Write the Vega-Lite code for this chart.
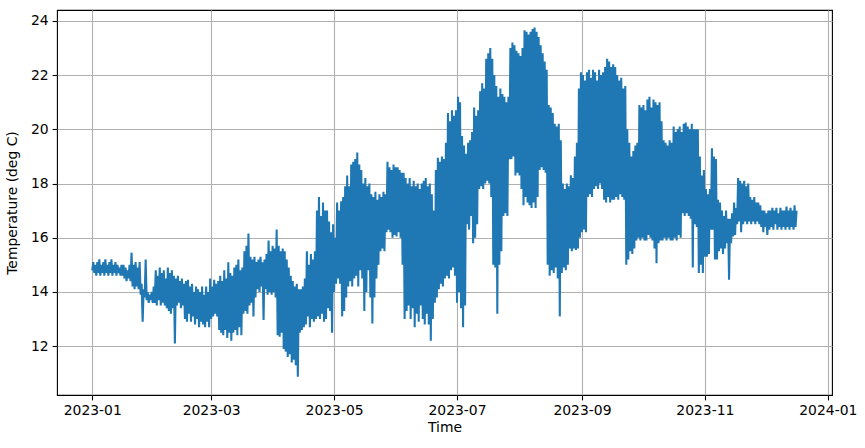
{
"$schema":"https://vega.github.io/schema/vega-lite/v6.json",
"autosize":"none",
"width":775,"height":385,
"padding":{"left":57,"top":10,"right":33,"bottom":53},
"background":"white",
"config":{
"view":{"stroke":"black","strokeWidth":1.1},
"axis":{"labelFont":"DejaVu Sans","labelFontSize":13.9,"labelColor":"black","titleFont":"DejaVu Sans","titleFontSize":13.9,"titleFontWeight":"normal","titleColor":"black","gridColor":"#b0b0b0","gridWidth":1.1,"gridOpacity":1,"tickColor":"black","tickWidth":1.1,"tickSize":4.9,"labelPadding":4,"domain":false}
},
"data":{"format":{"parse":{"t":"date:'%Y-%m-%d %H'"}},"values":[
{"t":"2023-01-01 00","v":14.8},{"t":"2023-01-01 12","v":15.1},
{"t":"2023-01-02 00","v":14.7},{"t":"2023-01-02 12","v":15.0},
{"t":"2023-01-03 00","v":14.6},{"t":"2023-01-03 12","v":15.1},
{"t":"2023-01-04 00","v":14.7},{"t":"2023-01-04 12","v":15.2},
{"t":"2023-01-05 00","v":14.6},{"t":"2023-01-05 12","v":15.0},
{"t":"2023-01-06 00","v":14.7},{"t":"2023-01-06 12","v":15.1},
{"t":"2023-01-07 00","v":14.6},{"t":"2023-01-07 12","v":15.2},
{"t":"2023-01-08 00","v":14.7},{"t":"2023-01-08 12","v":15.0},
{"t":"2023-01-09 00","v":14.6},{"t":"2023-01-09 12","v":15.1},
{"t":"2023-01-10 00","v":14.7},{"t":"2023-01-10 12","v":15.2},
{"t":"2023-01-11 00","v":14.6},{"t":"2023-01-11 12","v":15.0},
{"t":"2023-01-12 00","v":14.7},{"t":"2023-01-12 12","v":15.1},
{"t":"2023-01-13 00","v":14.6},{"t":"2023-01-13 12","v":15.0},
{"t":"2023-01-14 00","v":14.7},{"t":"2023-01-14 12","v":14.9},
{"t":"2023-01-15 00","v":14.6},{"t":"2023-01-15 12","v":15.0},
{"t":"2023-01-16 00","v":14.6},{"t":"2023-01-16 12","v":15.0},
{"t":"2023-01-17 00","v":14.5},{"t":"2023-01-17 12","v":14.9},
{"t":"2023-01-18 00","v":14.4},{"t":"2023-01-18 12","v":14.8},
{"t":"2023-01-19 00","v":14.5},{"t":"2023-01-19 12","v":15.0},
{"t":"2023-01-20 00","v":14.4},{"t":"2023-01-20 12","v":15.45},
{"t":"2023-01-21 00","v":14.2},{"t":"2023-01-21 12","v":15.0},
{"t":"2023-01-22 00","v":14.1},{"t":"2023-01-22 12","v":15.1},
{"t":"2023-01-23 00","v":14.2},{"t":"2023-01-23 12","v":14.9},
{"t":"2023-01-24 00","v":14.1},{"t":"2023-01-24 12","v":15.1},
{"t":"2023-01-25 00","v":13.9},{"t":"2023-01-25 12","v":14.3},
{"t":"2023-01-26 00","v":12.9},{"t":"2023-01-26 12","v":14.1},
{"t":"2023-01-27 00","v":13.8},{"t":"2023-01-27 12","v":15.2},
{"t":"2023-01-28 00","v":13.7},{"t":"2023-01-28 12","v":14.0},
{"t":"2023-01-29 00","v":13.6},{"t":"2023-01-29 12","v":13.9},
{"t":"2023-01-30 00","v":13.7},{"t":"2023-01-30 12","v":14.0},
{"t":"2023-01-31 00","v":13.6},{"t":"2023-01-31 12","v":14.2},
{"t":"2023-02-01 00","v":13.6},{"t":"2023-02-01 12","v":14.8},
{"t":"2023-02-02 00","v":13.5},{"t":"2023-02-02 12","v":14.6},
{"t":"2023-02-03 00","v":13.7},{"t":"2023-02-03 12","v":14.9},
{"t":"2023-02-04 00","v":13.5},{"t":"2023-02-04 12","v":14.7},
{"t":"2023-02-05 00","v":13.6},{"t":"2023-02-05 12","v":14.8},
{"t":"2023-02-06 00","v":13.5},{"t":"2023-02-06 12","v":14.5},
{"t":"2023-02-07 00","v":13.4},{"t":"2023-02-07 12","v":14.9},
{"t":"2023-02-08 00","v":13.3},{"t":"2023-02-08 12","v":14.7},
{"t":"2023-02-09 00","v":13.2},{"t":"2023-02-09 12","v":14.8},
{"t":"2023-02-10 00","v":13.4},{"t":"2023-02-10 12","v":14.6},
{"t":"2023-02-11 00","v":12.1},{"t":"2023-02-11 12","v":14.5},
{"t":"2023-02-12 00","v":13.5},{"t":"2023-02-12 12","v":14.6},
{"t":"2023-02-13 00","v":13.6},{"t":"2023-02-13 12","v":14.4},
{"t":"2023-02-14 00","v":13.4},{"t":"2023-02-14 12","v":14.5},
{"t":"2023-02-15 00","v":13.5},{"t":"2023-02-15 12","v":14.3},
{"t":"2023-02-16 00","v":13.0},{"t":"2023-02-16 12","v":14.4},
{"t":"2023-02-17 00","v":12.9},{"t":"2023-02-17 12","v":14.45},
{"t":"2023-02-18 00","v":13.2},{"t":"2023-02-18 12","v":14.2},
{"t":"2023-02-19 00","v":12.9},{"t":"2023-02-19 12","v":14.3},
{"t":"2023-02-20 00","v":13.1},{"t":"2023-02-20 12","v":14.0},
{"t":"2023-02-21 00","v":12.8},{"t":"2023-02-21 12","v":14.2},
{"t":"2023-02-22 00","v":13.0},{"t":"2023-02-22 12","v":14.1},
{"t":"2023-02-23 00","v":12.7},{"t":"2023-02-23 12","v":14.0},
{"t":"2023-02-24 00","v":12.9},{"t":"2023-02-24 12","v":14.2},
{"t":"2023-02-25 00","v":12.8},{"t":"2023-02-25 12","v":13.9},
{"t":"2023-02-26 00","v":12.7},{"t":"2023-02-26 12","v":14.2},
{"t":"2023-02-27 00","v":12.9},{"t":"2023-02-27 12","v":14.0},
{"t":"2023-02-28 00","v":12.7},{"t":"2023-02-28 12","v":14.5},
{"t":"2023-03-01 00","v":13.0},{"t":"2023-03-01 12","v":14.2},
{"t":"2023-03-02 00","v":13.1},{"t":"2023-03-02 12","v":14.45},
{"t":"2023-03-03 00","v":13.2},{"t":"2023-03-03 12","v":14.3},
{"t":"2023-03-04 00","v":13.1},{"t":"2023-03-04 12","v":14.4},
{"t":"2023-03-05 00","v":12.6},{"t":"2023-03-05 12","v":14.6},
{"t":"2023-03-06 00","v":12.5},{"t":"2023-03-06 12","v":14.4},
{"t":"2023-03-07 00","v":12.4},{"t":"2023-03-07 12","v":14.8},
{"t":"2023-03-08 00","v":12.6},{"t":"2023-03-08 12","v":14.5},
{"t":"2023-03-09 00","v":12.3},{"t":"2023-03-09 12","v":15.1},
{"t":"2023-03-10 00","v":12.5},{"t":"2023-03-10 12","v":14.7},
{"t":"2023-03-11 00","v":12.2},{"t":"2023-03-11 12","v":14.6},
{"t":"2023-03-12 00","v":12.5},{"t":"2023-03-12 12","v":14.9},
{"t":"2023-03-13 00","v":12.6},{"t":"2023-03-13 12","v":15.0},
{"t":"2023-03-14 00","v":12.4},{"t":"2023-03-14 12","v":15.2},
{"t":"2023-03-15 00","v":12.7},{"t":"2023-03-15 12","v":14.8},
{"t":"2023-03-16 00","v":12.4},{"t":"2023-03-16 12","v":14.9},
{"t":"2023-03-17 00","v":13.2},{"t":"2023-03-17 12","v":15.5},
{"t":"2023-03-18 00","v":13.3},{"t":"2023-03-18 12","v":15.7},
{"t":"2023-03-19 00","v":13.2},{"t":"2023-03-19 12","v":16.16},
{"t":"2023-03-20 00","v":13.5},{"t":"2023-03-20 12","v":15.3},
{"t":"2023-03-21 00","v":13.6},{"t":"2023-03-21 12","v":15.2},
{"t":"2023-03-22 00","v":13.1},{"t":"2023-03-22 12","v":15.3},
{"t":"2023-03-23 00","v":13.8},{"t":"2023-03-23 12","v":15.1},
{"t":"2023-03-24 00","v":14.1},{"t":"2023-03-24 12","v":15.2},
{"t":"2023-03-25 00","v":14.0},{"t":"2023-03-25 12","v":15.3},
{"t":"2023-03-26 00","v":14.2},{"t":"2023-03-26 12","v":15.1},
{"t":"2023-03-27 00","v":12.97},{"t":"2023-03-27 12","v":15.2},
{"t":"2023-03-28 00","v":14.1},{"t":"2023-03-28 12","v":15.4},
{"t":"2023-03-29 00","v":13.9},{"t":"2023-03-29 12","v":15.9},
{"t":"2023-03-30 00","v":14.0},{"t":"2023-03-30 12","v":15.5},
{"t":"2023-03-31 00","v":13.9},{"t":"2023-03-31 12","v":15.7},
{"t":"2023-04-01 00","v":14.0},{"t":"2023-04-01 12","v":15.6},
{"t":"2023-04-02 00","v":13.8},{"t":"2023-04-02 12","v":16.3},
{"t":"2023-04-03 00","v":12.4},{"t":"2023-04-03 12","v":15.7},
{"t":"2023-04-04 00","v":12.35},{"t":"2023-04-04 12","v":15.5},
{"t":"2023-04-05 00","v":12.5},{"t":"2023-04-05 12","v":15.6},
{"t":"2023-04-06 00","v":11.9},{"t":"2023-04-06 12","v":15.5},
{"t":"2023-04-07 00","v":11.8},{"t":"2023-04-07 12","v":15.2},
{"t":"2023-04-08 00","v":11.6},{"t":"2023-04-08 12","v":14.9},
{"t":"2023-04-09 00","v":11.7},{"t":"2023-04-09 12","v":14.6},
{"t":"2023-04-10 00","v":11.4},{"t":"2023-04-10 12","v":14.4},
{"t":"2023-04-11 00","v":11.5},{"t":"2023-04-11 12","v":14.2},
{"t":"2023-04-12 00","v":11.3},{"t":"2023-04-12 12","v":14.3},
{"t":"2023-04-13 00","v":10.87},{"t":"2023-04-13 12","v":14.1},
{"t":"2023-04-14 00","v":12.5},{"t":"2023-04-14 12","v":14.1},
{"t":"2023-04-15 00","v":12.6},{"t":"2023-04-15 12","v":14.2},
{"t":"2023-04-16 00","v":12.7},{"t":"2023-04-16 12","v":14.5},
{"t":"2023-04-17 00","v":12.8},{"t":"2023-04-17 12","v":15.5},
{"t":"2023-04-18 00","v":13.1},{"t":"2023-04-18 12","v":15.0},
{"t":"2023-04-19 00","v":12.7},{"t":"2023-04-19 12","v":15.4},
{"t":"2023-04-20 00","v":13.0},{"t":"2023-04-20 12","v":15.2},
{"t":"2023-04-21 00","v":12.9},{"t":"2023-04-21 12","v":15.5},
{"t":"2023-04-22 00","v":13.0},{"t":"2023-04-22 12","v":17.0},
{"t":"2023-04-23 00","v":13.1},{"t":"2023-04-23 12","v":17.5},
{"t":"2023-04-24 00","v":13.0},{"t":"2023-04-24 12","v":16.8},
{"t":"2023-04-25 00","v":13.2},{"t":"2023-04-25 12","v":17.3},
{"t":"2023-04-26 00","v":12.9},{"t":"2023-04-26 12","v":17.0},
{"t":"2023-04-27 00","v":13.0},{"t":"2023-04-27 12","v":17.0},
{"t":"2023-04-28 00","v":13.4},{"t":"2023-04-28 12","v":16.6},
{"t":"2023-04-29 00","v":13.3},{"t":"2023-04-29 12","v":16.2},
{"t":"2023-04-30 00","v":12.5},{"t":"2023-04-30 12","v":16.5},
{"t":"2023-05-01 00","v":14.0},{"t":"2023-05-01 12","v":16.0},
{"t":"2023-05-02 00","v":14.3},{"t":"2023-05-02 12","v":17.3},
{"t":"2023-05-03 00","v":14.5},{"t":"2023-05-03 12","v":17.0},
{"t":"2023-05-04 00","v":14.3},{"t":"2023-05-04 12","v":17.35},
{"t":"2023-05-05 00","v":13.1},{"t":"2023-05-05 12","v":17.5},
{"t":"2023-05-06 00","v":13.3},{"t":"2023-05-06 12","v":17.9},
{"t":"2023-05-07 00","v":13.8},{"t":"2023-05-07 12","v":18.3},
{"t":"2023-05-08 00","v":14.2},{"t":"2023-05-08 12","v":17.9},
{"t":"2023-05-09 00","v":14.4},{"t":"2023-05-09 12","v":18.7},
{"t":"2023-05-10 00","v":14.2},{"t":"2023-05-10 12","v":18.8},
{"t":"2023-05-11 00","v":14.5},{"t":"2023-05-11 12","v":18.9},
{"t":"2023-05-12 00","v":14.6},{"t":"2023-05-12 12","v":19.14},
{"t":"2023-05-13 00","v":14.2},{"t":"2023-05-13 12","v":18.7},
{"t":"2023-05-14 00","v":14.8},{"t":"2023-05-14 12","v":18.5},
{"t":"2023-05-15 00","v":14.5},{"t":"2023-05-15 12","v":18.0},
{"t":"2023-05-16 00","v":13.3},{"t":"2023-05-16 12","v":18.2},
{"t":"2023-05-17 00","v":14.0},{"t":"2023-05-17 12","v":17.9},
{"t":"2023-05-18 00","v":14.8},{"t":"2023-05-18 12","v":18.0},
{"t":"2023-05-19 00","v":13.8},{"t":"2023-05-19 12","v":17.6},
{"t":"2023-05-20 00","v":12.84},{"t":"2023-05-20 12","v":17.5},
{"t":"2023-05-21 00","v":13.8},{"t":"2023-05-21 12","v":17.7},
{"t":"2023-05-22 00","v":14.5},{"t":"2023-05-22 12","v":17.4},
{"t":"2023-05-23 00","v":15.0},{"t":"2023-05-23 12","v":17.6},
{"t":"2023-05-24 00","v":15.5},{"t":"2023-05-24 12","v":17.5},
{"t":"2023-05-25 00","v":15.6},{"t":"2023-05-25 12","v":17.7},
{"t":"2023-05-26 00","v":15.5},{"t":"2023-05-26 12","v":17.6},
{"t":"2023-05-27 00","v":16.2},{"t":"2023-05-27 12","v":18.8},
{"t":"2023-05-28 00","v":16.3},{"t":"2023-05-28 12","v":18.6},
{"t":"2023-05-29 00","v":16.2},{"t":"2023-05-29 12","v":18.5},
{"t":"2023-05-30 00","v":16.0},{"t":"2023-05-30 12","v":18.7},
{"t":"2023-05-31 00","v":16.1},{"t":"2023-05-31 12","v":18.6},
{"t":"2023-06-01 00","v":16.05},{"t":"2023-06-01 12","v":18.6},
{"t":"2023-06-02 00","v":16.2},{"t":"2023-06-02 12","v":18.5},
{"t":"2023-06-03 00","v":16.0},{"t":"2023-06-03 12","v":18.4},
{"t":"2023-06-04 00","v":15.0},{"t":"2023-06-04 12","v":18.4},
{"t":"2023-06-05 00","v":13.0},{"t":"2023-06-05 12","v":18.2},
{"t":"2023-06-06 00","v":13.3},{"t":"2023-06-06 12","v":18.0},
{"t":"2023-06-07 00","v":13.5},{"t":"2023-06-07 12","v":18.2},
{"t":"2023-06-08 00","v":13.0},{"t":"2023-06-08 12","v":17.9},
{"t":"2023-06-09 00","v":13.4},{"t":"2023-06-09 12","v":18.1},
{"t":"2023-06-10 00","v":12.7},{"t":"2023-06-10 12","v":17.9},
{"t":"2023-06-11 00","v":13.2},{"t":"2023-06-11 12","v":18.0},
{"t":"2023-06-12 00","v":12.9},{"t":"2023-06-12 12","v":17.8},
{"t":"2023-06-13 00","v":13.5},{"t":"2023-06-13 12","v":18.0},
{"t":"2023-06-14 00","v":13.0},{"t":"2023-06-14 12","v":18.1},
{"t":"2023-06-15 00","v":12.8},{"t":"2023-06-15 12","v":18.2},
{"t":"2023-06-16 00","v":13.2},{"t":"2023-06-16 12","v":17.9},
{"t":"2023-06-17 00","v":12.8},{"t":"2023-06-17 12","v":18.0},
{"t":"2023-06-18 00","v":12.2},{"t":"2023-06-18 12","v":17.6},
{"t":"2023-06-19 00","v":13.0},{"t":"2023-06-19 12","v":17.0},
{"t":"2023-06-20 00","v":13.6},{"t":"2023-06-20 12","v":18.5},
{"t":"2023-06-21 00","v":13.8},{"t":"2023-06-21 12","v":18.95},
{"t":"2023-06-22 00","v":14.1},{"t":"2023-06-22 12","v":18.8},
{"t":"2023-06-23 00","v":14.3},{"t":"2023-06-23 12","v":19.0},
{"t":"2023-06-24 00","v":14.2},{"t":"2023-06-24 12","v":18.9},
{"t":"2023-06-25 00","v":14.5},{"t":"2023-06-25 12","v":19.5},
{"t":"2023-06-26 00","v":14.6},{"t":"2023-06-26 12","v":20.6},
{"t":"2023-06-27 00","v":14.5},{"t":"2023-06-27 12","v":20.3},
{"t":"2023-06-28 00","v":14.8},{"t":"2023-06-28 12","v":20.7},
{"t":"2023-06-29 00","v":14.9},{"t":"2023-06-29 12","v":20.5},
{"t":"2023-06-30 00","v":14.6},{"t":"2023-06-30 12","v":20.7},
{"t":"2023-07-01 00","v":13.6},{"t":"2023-07-01 12","v":21.2},
{"t":"2023-07-02 00","v":14.0},{"t":"2023-07-02 12","v":21.0},
{"t":"2023-07-03 00","v":13.4},{"t":"2023-07-03 12","v":19.75},
{"t":"2023-07-04 00","v":12.7},{"t":"2023-07-04 12","v":19.4},
{"t":"2023-07-05 00","v":13.5},{"t":"2023-07-05 12","v":19.1},
{"t":"2023-07-06 00","v":16.5},{"t":"2023-07-06 12","v":19.5},
{"t":"2023-07-07 00","v":16.3},{"t":"2023-07-07 12","v":19.6},
{"t":"2023-07-08 00","v":16.8},{"t":"2023-07-08 12","v":19.9},
{"t":"2023-07-09 00","v":15.8},{"t":"2023-07-09 12","v":20.8},
{"t":"2023-07-10 00","v":16.0},{"t":"2023-07-10 12","v":20.5},
{"t":"2023-07-11 00","v":16.5},{"t":"2023-07-11 12","v":20.7},
{"t":"2023-07-12 00","v":17.8},{"t":"2023-07-12 12","v":21.4},
{"t":"2023-07-13 00","v":17.9},{"t":"2023-07-13 12","v":21.7},
{"t":"2023-07-14 00","v":17.8},{"t":"2023-07-14 12","v":21.5},
{"t":"2023-07-15 00","v":18.0},{"t":"2023-07-15 12","v":22.6},
{"t":"2023-07-16 00","v":18.1},{"t":"2023-07-16 12","v":22.8},
{"t":"2023-07-17 00","v":18.0},{"t":"2023-07-17 12","v":23.0},
{"t":"2023-07-18 00","v":17.5},{"t":"2023-07-18 12","v":22.6},
{"t":"2023-07-19 00","v":15.0},{"t":"2023-07-19 12","v":22.0},
{"t":"2023-07-20 00","v":14.9},{"t":"2023-07-20 12","v":21.6},
{"t":"2023-07-21 00","v":13.2},{"t":"2023-07-21 12","v":21.2},
{"t":"2023-07-22 00","v":15.0},{"t":"2023-07-22 12","v":21.5},
{"t":"2023-07-23 00","v":15.5},{"t":"2023-07-23 12","v":21.3},
{"t":"2023-07-24 00","v":16.8},{"t":"2023-07-24 12","v":21.2},
{"t":"2023-07-25 00","v":16.9},{"t":"2023-07-25 12","v":21.0},
{"t":"2023-07-26 00","v":16.8},{"t":"2023-07-26 12","v":21.2},
{"t":"2023-07-27 00","v":18.9},{"t":"2023-07-27 12","v":23.0},
{"t":"2023-07-28 00","v":18.9},{"t":"2023-07-28 12","v":23.2},
{"t":"2023-07-29 00","v":19.0},{"t":"2023-07-29 12","v":23.1},
{"t":"2023-07-30 00","v":18.3},{"t":"2023-07-30 12","v":22.9},
{"t":"2023-07-31 00","v":18.4},{"t":"2023-07-31 12","v":22.8},
{"t":"2023-08-01 00","v":18.3},{"t":"2023-08-01 12","v":22.7},
{"t":"2023-08-02 00","v":17.8},{"t":"2023-08-02 12","v":23.0},
{"t":"2023-08-03 00","v":17.2},{"t":"2023-08-03 12","v":23.65},
{"t":"2023-08-04 00","v":17.5},{"t":"2023-08-04 12","v":23.6},
{"t":"2023-08-05 00","v":17.3},{"t":"2023-08-05 12","v":23.5},
{"t":"2023-08-06 00","v":17.2},{"t":"2023-08-06 12","v":23.6},
{"t":"2023-08-07 00","v":17.1},{"t":"2023-08-07 12","v":23.7},
{"t":"2023-08-08 00","v":17.3},{"t":"2023-08-08 12","v":23.75},
{"t":"2023-08-09 00","v":17.1},{"t":"2023-08-09 12","v":23.6},
{"t":"2023-08-10 00","v":17.5},{"t":"2023-08-10 12","v":23.4},
{"t":"2023-08-11 00","v":18.5},{"t":"2023-08-11 12","v":23.1},
{"t":"2023-08-12 00","v":18.6},{"t":"2023-08-12 12","v":22.8},
{"t":"2023-08-13 00","v":18.5},{"t":"2023-08-13 12","v":22.5},
{"t":"2023-08-14 00","v":18.4},{"t":"2023-08-14 12","v":22.2},
{"t":"2023-08-15 00","v":15.0},{"t":"2023-08-15 12","v":20.9},
{"t":"2023-08-16 00","v":14.6},{"t":"2023-08-16 12","v":20.8},
{"t":"2023-08-17 00","v":14.8},{"t":"2023-08-17 12","v":20.6},
{"t":"2023-08-18 00","v":14.7},{"t":"2023-08-18 12","v":20.2},
{"t":"2023-08-19 00","v":14.9},{"t":"2023-08-19 12","v":20.1},
{"t":"2023-08-20 00","v":14.5},{"t":"2023-08-20 12","v":20.2},
{"t":"2023-08-21 00","v":13.1},{"t":"2023-08-21 12","v":19.6},
{"t":"2023-08-22 00","v":14.7},{"t":"2023-08-22 12","v":18.0},
{"t":"2023-08-23 00","v":14.9},{"t":"2023-08-23 12","v":17.8},
{"t":"2023-08-24 00","v":14.8},{"t":"2023-08-24 12","v":18.0},
{"t":"2023-08-25 00","v":15.0},{"t":"2023-08-25 12","v":17.9},
{"t":"2023-08-26 00","v":15.6},{"t":"2023-08-26 12","v":18.3},
{"t":"2023-08-27 00","v":15.5},{"t":"2023-08-27 12","v":18.2},
{"t":"2023-08-28 00","v":15.6},{"t":"2023-08-28 12","v":19.0},
{"t":"2023-08-29 00","v":15.55},{"t":"2023-08-29 12","v":19.5},
{"t":"2023-08-30 00","v":15.6},{"t":"2023-08-30 12","v":21.5},
{"t":"2023-08-31 00","v":16.0},{"t":"2023-08-31 12","v":22.1},
{"t":"2023-09-01 00","v":16.2},{"t":"2023-09-01 12","v":22.0},
{"t":"2023-09-02 00","v":16.3},{"t":"2023-09-02 12","v":21.8},
{"t":"2023-09-03 00","v":16.2},{"t":"2023-09-03 12","v":22.1},
{"t":"2023-09-04 00","v":17.5},{"t":"2023-09-04 12","v":22.2},
{"t":"2023-09-05 00","v":17.6},{"t":"2023-09-05 12","v":21.9},
{"t":"2023-09-06 00","v":17.5},{"t":"2023-09-06 12","v":22.2},
{"t":"2023-09-07 00","v":17.8},{"t":"2023-09-07 12","v":22.1},
{"t":"2023-09-08 00","v":17.9},{"t":"2023-09-08 12","v":21.8},
{"t":"2023-09-09 00","v":17.8},{"t":"2023-09-09 12","v":22.2},
{"t":"2023-09-10 00","v":18.0},{"t":"2023-09-10 12","v":22.0},
{"t":"2023-09-11 00","v":17.8},{"t":"2023-09-11 12","v":22.1},
{"t":"2023-09-12 00","v":17.4},{"t":"2023-09-12 12","v":22.3},
{"t":"2023-09-13 00","v":17.3},{"t":"2023-09-13 12","v":22.6},
{"t":"2023-09-14 00","v":17.5},{"t":"2023-09-14 12","v":22.5},
{"t":"2023-09-15 00","v":17.3},{"t":"2023-09-15 12","v":22.3},
{"t":"2023-09-16 00","v":17.4},{"t":"2023-09-16 12","v":22.4},
{"t":"2023-09-17 00","v":17.4},{"t":"2023-09-17 12","v":22.3},
{"t":"2023-09-18 00","v":17.5},{"t":"2023-09-18 12","v":22.0},
{"t":"2023-09-19 00","v":17.4},{"t":"2023-09-19 12","v":21.8},
{"t":"2023-09-20 00","v":17.6},{"t":"2023-09-20 12","v":21.9},
{"t":"2023-09-21 00","v":17.5},{"t":"2023-09-21 12","v":21.5},
{"t":"2023-09-22 00","v":17.4},{"t":"2023-09-22 12","v":21.6},
{"t":"2023-09-23 00","v":15.0},{"t":"2023-09-23 12","v":20.0},
{"t":"2023-09-24 00","v":15.2},{"t":"2023-09-24 12","v":19.5},
{"t":"2023-09-25 00","v":15.5},{"t":"2023-09-25 12","v":19.0},
{"t":"2023-09-26 00","v":15.4},{"t":"2023-09-26 12","v":19.2},
{"t":"2023-09-27 00","v":15.6},{"t":"2023-09-27 12","v":19.4},
{"t":"2023-09-28 00","v":15.9},{"t":"2023-09-28 12","v":19.5},
{"t":"2023-09-29 00","v":16.0},{"t":"2023-09-29 12","v":20.9},
{"t":"2023-09-30 00","v":15.9},{"t":"2023-09-30 12","v":20.8},
{"t":"2023-10-01 00","v":16.0},{"t":"2023-10-01 12","v":20.9},
{"t":"2023-10-02 00","v":15.9},{"t":"2023-10-02 12","v":20.7},
{"t":"2023-10-03 00","v":15.9},{"t":"2023-10-03 12","v":21.1},
{"t":"2023-10-04 00","v":16.1},{"t":"2023-10-04 12","v":21.2},
{"t":"2023-10-05 00","v":16.0},{"t":"2023-10-05 12","v":20.8},
{"t":"2023-10-06 00","v":15.9},{"t":"2023-10-06 12","v":21.1},
{"t":"2023-10-07 00","v":15.6},{"t":"2023-10-07 12","v":21.0},
{"t":"2023-10-08 00","v":15.06},{"t":"2023-10-08 12","v":20.9},
{"t":"2023-10-09 00","v":15.8},{"t":"2023-10-09 12","v":21.0},
{"t":"2023-10-10 00","v":15.9},{"t":"2023-10-10 12","v":20.3},
{"t":"2023-10-11 00","v":15.9},{"t":"2023-10-11 12","v":19.6},
{"t":"2023-10-12 00","v":16.0},{"t":"2023-10-12 12","v":19.5},
{"t":"2023-10-13 00","v":15.9},{"t":"2023-10-13 12","v":19.4},
{"t":"2023-10-14 00","v":16.0},{"t":"2023-10-14 12","v":19.6},
{"t":"2023-10-15 00","v":15.9},{"t":"2023-10-15 12","v":19.5},
{"t":"2023-10-16 00","v":15.9},{"t":"2023-10-16 12","v":20.1},
{"t":"2023-10-17 00","v":16.0},{"t":"2023-10-17 12","v":19.9},
{"t":"2023-10-18 00","v":15.9},{"t":"2023-10-18 12","v":20.0},
{"t":"2023-10-19 00","v":16.1},{"t":"2023-10-19 12","v":20.1},
{"t":"2023-10-20 00","v":16.0},{"t":"2023-10-20 12","v":19.9},
{"t":"2023-10-21 00","v":16.9},{"t":"2023-10-21 12","v":20.2},
{"t":"2023-10-22 00","v":16.8},{"t":"2023-10-22 12","v":20.25},
{"t":"2023-10-23 00","v":16.9},{"t":"2023-10-23 12","v":20.1},
{"t":"2023-10-24 00","v":16.8},{"t":"2023-10-24 12","v":20.0},
{"t":"2023-10-25 00","v":16.7},{"t":"2023-10-25 12","v":20.2},
{"t":"2023-10-26 00","v":14.9},{"t":"2023-10-26 12","v":20.0},
{"t":"2023-10-27 00","v":16.5},{"t":"2023-10-27 12","v":20.0},
{"t":"2023-10-28 00","v":16.4},{"t":"2023-10-28 12","v":20.0},
{"t":"2023-10-29 00","v":14.7},{"t":"2023-10-29 12","v":19.0},
{"t":"2023-10-30 00","v":15.0},{"t":"2023-10-30 12","v":18.3},
{"t":"2023-10-31 00","v":14.7},{"t":"2023-10-31 12","v":18.5},
{"t":"2023-11-01 00","v":15.3},{"t":"2023-11-01 12","v":17.8},
{"t":"2023-11-02 00","v":15.3},{"t":"2023-11-02 12","v":17.6},
{"t":"2023-11-03 00","v":15.4},{"t":"2023-11-03 12","v":17.8},
{"t":"2023-11-04 00","v":16.3},{"t":"2023-11-04 12","v":19.3},
{"t":"2023-11-05 00","v":16.3},{"t":"2023-11-05 12","v":19.0},
{"t":"2023-11-06 00","v":15.2},{"t":"2023-11-06 12","v":18.9},
{"t":"2023-11-07 00","v":15.2},{"t":"2023-11-07 12","v":17.4},
{"t":"2023-11-08 00","v":15.5},{"t":"2023-11-08 12","v":17.3},
{"t":"2023-11-09 00","v":15.6},{"t":"2023-11-09 12","v":17.0},
{"t":"2023-11-10 00","v":15.4},{"t":"2023-11-10 12","v":16.8},
{"t":"2023-11-11 00","v":15.6},{"t":"2023-11-11 12","v":17.0},
{"t":"2023-11-12 00","v":15.8},{"t":"2023-11-12 12","v":16.7},
{"t":"2023-11-13 00","v":14.45},{"t":"2023-11-13 12","v":16.7},
{"t":"2023-11-14 00","v":15.8},{"t":"2023-11-14 12","v":16.9},
{"t":"2023-11-15 00","v":16.05},{"t":"2023-11-15 12","v":17.3},
{"t":"2023-11-16 00","v":16.1},{"t":"2023-11-16 12","v":17.1},
{"t":"2023-11-17 00","v":16.5},{"t":"2023-11-17 12","v":18.2},
{"t":"2023-11-18 00","v":16.6},{"t":"2023-11-18 12","v":18.1},
{"t":"2023-11-19 00","v":16.2},{"t":"2023-11-19 12","v":18.0},
{"t":"2023-11-20 00","v":16.5},{"t":"2023-11-20 12","v":18.1},
{"t":"2023-11-21 00","v":16.6},{"t":"2023-11-21 12","v":17.9},
{"t":"2023-11-22 00","v":16.5},{"t":"2023-11-22 12","v":18.0},
{"t":"2023-11-23 00","v":16.6},{"t":"2023-11-23 12","v":17.5},
{"t":"2023-11-24 00","v":16.5},{"t":"2023-11-24 12","v":17.4},
{"t":"2023-11-25 00","v":16.6},{"t":"2023-11-25 12","v":17.5},
{"t":"2023-11-26 00","v":16.5},{"t":"2023-11-26 12","v":17.3},
{"t":"2023-11-27 00","v":16.6},{"t":"2023-11-27 12","v":17.3},
{"t":"2023-11-28 00","v":16.5},{"t":"2023-11-28 12","v":17.2},
{"t":"2023-11-29 00","v":16.4},{"t":"2023-11-29 12","v":17.0},
{"t":"2023-11-30 00","v":16.2},{"t":"2023-11-30 12","v":17.0},
{"t":"2023-12-01 00","v":16.4},{"t":"2023-12-01 12","v":16.9},
{"t":"2023-12-02 00","v":16.1},{"t":"2023-12-02 12","v":17.0},
{"t":"2023-12-03 00","v":16.3},{"t":"2023-12-03 12","v":17.0},
{"t":"2023-12-04 00","v":16.4},{"t":"2023-12-04 12","v":17.1},
{"t":"2023-12-05 00","v":16.3},{"t":"2023-12-05 12","v":17.0},
{"t":"2023-12-06 00","v":16.5},{"t":"2023-12-06 12","v":17.1},
{"t":"2023-12-07 00","v":16.3},{"t":"2023-12-07 12","v":16.9},
{"t":"2023-12-08 00","v":16.4},{"t":"2023-12-08 12","v":17.1},
{"t":"2023-12-09 00","v":16.3},{"t":"2023-12-09 12","v":17.0},
{"t":"2023-12-10 00","v":16.4},{"t":"2023-12-10 12","v":17.0},
{"t":"2023-12-11 00","v":16.3},{"t":"2023-12-11 12","v":17.15},
{"t":"2023-12-12 00","v":16.4},{"t":"2023-12-12 12","v":17.0},
{"t":"2023-12-13 00","v":16.3},{"t":"2023-12-13 12","v":17.1},
{"t":"2023-12-14 00","v":16.4},{"t":"2023-12-14 12","v":17.0},
{"t":"2023-12-15 00","v":16.3},{"t":"2023-12-15 12","v":17.2},
{"t":"2023-12-16 00","v":16.4},{"t":"2023-12-16 12","v":17.0}
]},
"mark":{"type":"line","color":"#1f77b4","strokeWidth":2.08,"clip":true},
"encoding":{
"x":{"field":"t","type":"temporal","title":"Time",
"scale":{"domain":[{"year":2022,"month":12,"date":14,"hours":12},{"year":2024,"month":1,"date":3,"hours":2}]},
"axis":{"values":[{"year":2023,"month":1,"date":1},{"year":2023,"month":3,"date":1},{"year":2023,"month":5,"date":1},{"year":2023,"month":7,"date":1},{"year":2023,"month":9,"date":1},{"year":2023,"month":11,"date":1},{"year":2024,"month":1,"date":1}],"format":"%Y-%m","titlePadding":3,"labelFlush":false,"labelOverlap":false}},
"y":{"field":"v","type":"quantitative","title":"Temperature (deg C)",
"scale":{"domain":[10.2,24.4],"nice":false,"zero":false},
"axis":{"values":[12,14,16,18,20,22,24],"titlePadding":11,"labelFlush":false}}
}
}
